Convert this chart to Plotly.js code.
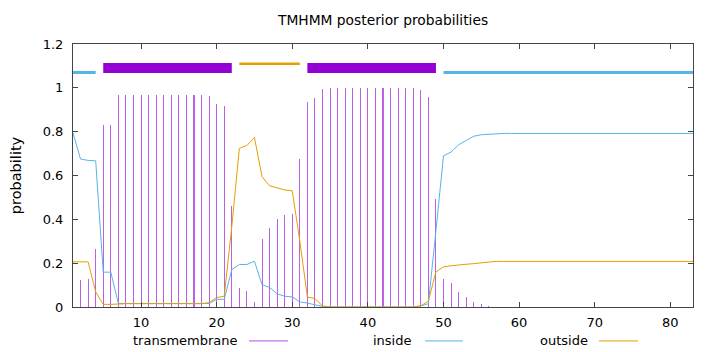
<!DOCTYPE html>
<html>
<head>
<meta charset="utf-8">
<script src="https://cdn.plot.ly/plotly-3.0.1.min.js"></script>
<style>html,body{margin:0;padding:0;background:#fff;}#chart{width:720px;height:352px;}</style>
</head>
<body>
<div id="chart"></div>
<script>
// Residue count and posterior probabilities
var seqLength = 83;
var transmembrane = [
  0, 0.122, 0.127, 0.263, 0.83, 0.83,
  0.969, 0.969, 0.969, 0.969, 0.969, 0.969, 0.969, 0.969, 0.969, 0.969,
  0.966, 0.966, 0.963, 0.924, 0.918, 0.463, 0.087, 0.073, 0.021,
  0.31, 0.36, 0.40, 0.42, 0.424, 0.675, 0.937, 0.953, 0.995, 0.998,
  1, 1, 1, 1, 1, 1, 1, 1, 1, 1,
  0.997, 0.99, 0.958, 0.493, 0.127, 0.108, 0.07, 0.046, 0.023, 0.015, 0.006,
  0, 0, 0, 0, 0, 0, 0, 0, 0, 0,
  0, 0, 0, 0, 0, 0, 0, 0, 0, 0,
  0, 0, 0, 0, 0, 0, 0
];
var inside = [
  0.794, 0.675, 0.669, 0.667, 0.159, 0.159,
  0.016, 0.016, 0.016, 0.016, 0.016, 0.016, 0.016, 0.016, 0.016, 0.016, 0.016, 0.016, 0.016,
  0.035, 0.035, 0.171, 0.194, 0.194, 0.209, 0.102, 0.089, 0.06, 0.049, 0.046, 0.023, 0.018, 0.009, 0.002,
  0, 0, 0, 0, 0, 0, 0, 0, 0, 0, 0, 0,
  0.005, 0.015, 0.347, 0.69, 0.707, 0.74, 0.76, 0.779, 0.786, 0.789,
  0.792, 0.792, 0.792, 0.792, 0.792, 0.792, 0.792, 0.792, 0.792, 0.792,
  0.792, 0.792, 0.792, 0.792, 0.792, 0.792, 0.792, 0.792, 0.792, 0.792,
  0.792, 0.792, 0.792, 0.792, 0.792, 0.792, 0.792
];
var outside = [
  0.206, 0.206, 0.206, 0.069, 0.012, 0.012,
  0.015, 0.015, 0.015, 0.015, 0.015, 0.015, 0.015, 0.015, 0.015, 0.015, 0.015, 0.015,
  0.02, 0.043, 0.049, 0.366, 0.724, 0.737, 0.773, 0.595, 0.553, 0.545, 0.534, 0.53, 0.30, 0.046, 0.038, 0.005,
  0, 0, 0, 0, 0, 0, 0, 0, 0, 0, 0, 0,
  0.005, 0.027, 0.16, 0.183, 0.188, 0.19, 0.195, 0.198, 0.2, 0.205,
  0.208, 0.208, 0.208, 0.208, 0.208, 0.208, 0.208, 0.208, 0.208, 0.208,
  0.208, 0.208, 0.208, 0.208, 0.208, 0.208, 0.208, 0.208, 0.208, 0.208,
  0.208, 0.208, 0.208, 0.208, 0.208, 0.208, 0.208
];
// Predicted topology segments [start, end] residues
var insideSegments = [[1, 4], [50, 83]];
var outsideSegments = [[23, 31]];
var tmSegments = [[5, 22], [32, 49]];
var seriesNames = ['transmembrane', 'inside', 'outside'];

var residues = [];
for (var i = 1; i <= seqLength; i++) residues.push(i);

var cTM = '#9400D3', cIn = '#56B4E9', cOut = '#E69F00';
var FONT = 'DejaVu Sans, sans-serif';

function segTrace(segs, level, color, width) {
  var xs = [], ys = [];
  segs.forEach(function (s) { xs.push(s[0], s[1], null); ys.push(level, level, null); });
  return {x: xs, y: ys, type: 'scatter', mode: 'lines', line: {color: color, width: width}, hoverinfo: 'skip', showlegend: false};
}

var traces = [
  {x: residues, y: transmembrane, type: 'bar', width: 0.14, marker: {color: 'rgba(148,0,211,0.62)', line: {width: 0}}, showlegend: false},
  {x: residues, y: inside, type: 'scatter', mode: 'lines', line: {color: cIn, width: 1}, showlegend: false},
  {x: residues, y: outside, type: 'scatter', mode: 'lines', line: {color: cOut, width: 1}, showlegend: false},
  segTrace(insideSegments, 1.07, cIn, 3),
  segTrace(outsideSegments, 1.11, cOut, 2.5),
  segTrace(tmSegments, 1.09, cTM, 10)
];

var legendY = -0.129;
var legendItems = [
  {name: seriesNames[0], textX: 0.2694, x0: 0.2839, x1: 0.3468, color: 'rgba(148,0,211,0.7)'},
  {name: seriesNames[1], textX: 0.55, x0: 0.5677, x1: 0.629, color: cIn},
  {name: seriesNames[2], textX: 0.8339, x0: 0.8484, x1: 0.9113, color: cOut}
];
var annotations = [], shapes = [];
legendItems.forEach(function (it) {
  annotations.push({text: it.name, xref: 'paper', yref: 'paper', x: it.textX, y: legendY, xanchor: 'right', yanchor: 'middle', showarrow: false, font: {family: FONT, size: 13, color: '#000'}});
  shapes.push({type: 'line', xref: 'paper', yref: 'paper', x0: it.x0, x1: it.x1, y0: legendY, y1: legendY, line: {color: it.color, width: 1}});
});

var axisCommon = {
  showgrid: false, zeroline: false, showline: true, linecolor: '#444', linewidth: 1,
  mirror: 'ticks', ticks: 'inside', ticklen: 5, tickcolor: '#444',
  tickfont: {family: FONT, size: 13, color: '#000'}
};

var layout = {
  width: 720, height: 352,
  margin: {l: 73, r: 27, t: 44, b: 45},
  paper_bgcolor: '#fff', plot_bgcolor: '#fff',
  font: {family: FONT, size: 13, color: '#000'},
  title: {text: 'TMHMM posterior probabilities', x: 0.532, xanchor: 'center', y: 0.943, yanchor: 'middle', font: {family: FONT, size: 13.8, color: '#000'}},
  xaxis: Object.assign({}, axisCommon, {range: [1, 83], tick0: 0, dtick: 10, automargin: false, ticklabelstandoff: 3}),
  yaxis: Object.assign({}, axisCommon, {range: [0, 1.2], dtick: 0.2, automargin: false, ticklabelstandoff: 6,
    title: {text: 'probability', standoff: 17, font: {family: FONT, size: 14.5, color: '#000'}}}),
  bargap: 0,
  showlegend: false,
  annotations: annotations,
  shapes: shapes
};

Plotly.newPlot('chart', traces, layout, {displayModeBar: false, staticPlot: true});
</script>
</body>
</html>
